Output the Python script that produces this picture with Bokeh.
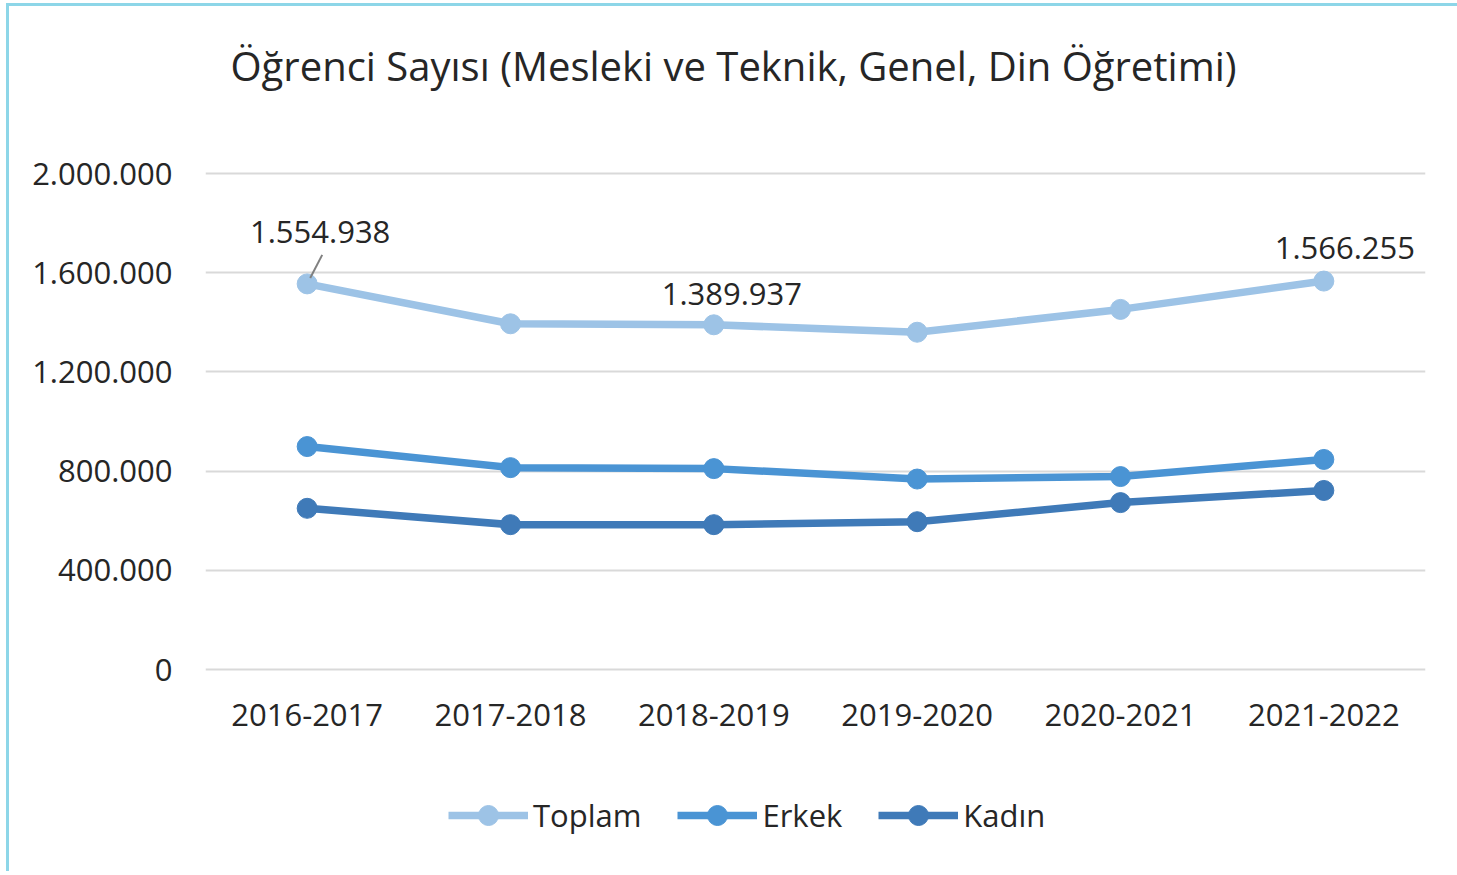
from bokeh.plotting import figure
from bokeh.models import FactorRange, Range1d, FixedTicker, Legend, LegendItem, ColumnDataSource, Title
from bokeh.core.properties import value
from bokeh.embed import file_html
from bokeh.resources import INLINE

years = ["2016-2017", "2017-2018", "2018-2019", "2019-2020", "2020-2021", "2021-2022"]
toplam = [1554938, 1394000, 1389937, 1360000, 1452000, 1566255]
erkek = [899000, 814000, 810000, 768000, 778000, 847000]
kadin = [650000, 584000, 584000, 596000, 673000, 722000]
y_ticks = [0, 400000, 800000, 1200000, 1600000, 2000000]
y_tick_labels = ["0", "400.000", "800.000", "1.200.000", "1.600.000", "2.000.000"]
label_years = ["2016-2017", "2018-2019", "2021-2022"]
label_values = [1554938, 1389937, 1566255]
label_texts = ["1.554.938", "1.389.937", "1.566.255"]
title_text = "Öğrenci Sayısı (Mesleki ve Teknik, Genel, Din Öğretimi)"

FONT = "Open Sans"
TXT = "#262626"

# frame extends below zero so the legend (drawn inside the frame) is visible
p = figure(x_range=FactorRange(*years), y_range=Range1d(-814516, 2008065),
           frame_width=1220, frame_height=700,
           min_border_left=196, min_border_top=165, min_border_right=32, min_border_bottom=0,
           output_backend="svg", toolbar_location=None, tools="")
p.x_range.factor_padding = 0
p.x_range.range_padding = 0
p.styles = {"border-left": "3px solid #8DD6E8", "border-top": "3px solid #8DD6E8",
            "margin-left": "6px", "margin-top": "3px"}

# real title (outermost) and a blank spacer title between it and the frame
p.title.text = title_text
p.title.text_font = FONT
p.title.text_font_size = "40px"
p.title.text_font_style = "normal"
p.title.text_color = TXT
p.title.align = "left"
p.title.offset = 25
p.title.standoff = 0
p.add_layout(Title(text=" ", text_font_size="1px", standoff=76), "above")

p.outline_line_color = None
p.xgrid.grid_line_color = None
p.ygrid.grid_line_color = "#D9D9D9"
p.ygrid.grid_line_width = 2
p.yaxis.ticker = FixedTicker(ticks=y_ticks)
p.yaxis.major_label_overrides = {t: l for t, l in zip(y_ticks, y_tick_labels)}
for ax in (p.xaxis, p.yaxis):
    ax.axis_line_color = None
    ax.major_tick_line_color = None
    ax.minor_tick_line_color = None
    ax.major_tick_out = 0
    ax.major_tick_in = 0
    ax.major_label_text_font = FONT
    ax.major_label_text_font_size = "31px"
    ax.major_label_text_color = TXT
p.yaxis.major_label_standoff = 33
p.xaxis.major_label_standoff = 0
p.xaxis.fixed_location = -141000

colors = ["#9DC3E6", "#4A94D4", "#3F7AB8"]
names = ["Toplam", "Erkek", "Kadın"]
items = []
for vals, c, n in zip([toplam, erkek, kadin], colors, names):
    src = ColumnDataSource(dict(x=years, y=vals))
    l = p.line("x", "y", source=src, line_color=c, line_width=7.5)
    s = p.scatter("x", "y", source=src, size=20, fill_color=c, line_color=c)
    items.append(LegendItem(label=n, renderers=[l, s]))

# leader line for first label
p.segment(x0=[("2016-2017", 0.015)], y0=[label_values[0] + 24000],
          x1=[("2016-2017", 0.074)], y1=[label_values[0] + 117000],
          line_color="#808080", line_width=2)

lsrc = ColumnDataSource(dict(x=label_years, y=label_values, t=label_texts,
                             xo=[13, 18, 21], yo=[-52, -31, -33]))
p.text("x", "y", text="t", source=lsrc, x_offset="xo", y_offset="yo",
       text_align="center", text_baseline="middle", text_font=value(FONT),
       text_font_size="31px", text_color=TXT)

legend = Legend(items=items, orientation="horizontal", location=(243, 31),
                label_text_font=FONT, label_text_font_size="31px", label_text_color=TXT,
                glyph_width=80, glyph_height=50, label_standoff=5, spacing=36,
                padding=0, margin=0, border_line_color=None, background_fill_alpha=0)
p.add_layout(legend, "center")

open("out.html", "w").write(file_html(p, INLINE))
